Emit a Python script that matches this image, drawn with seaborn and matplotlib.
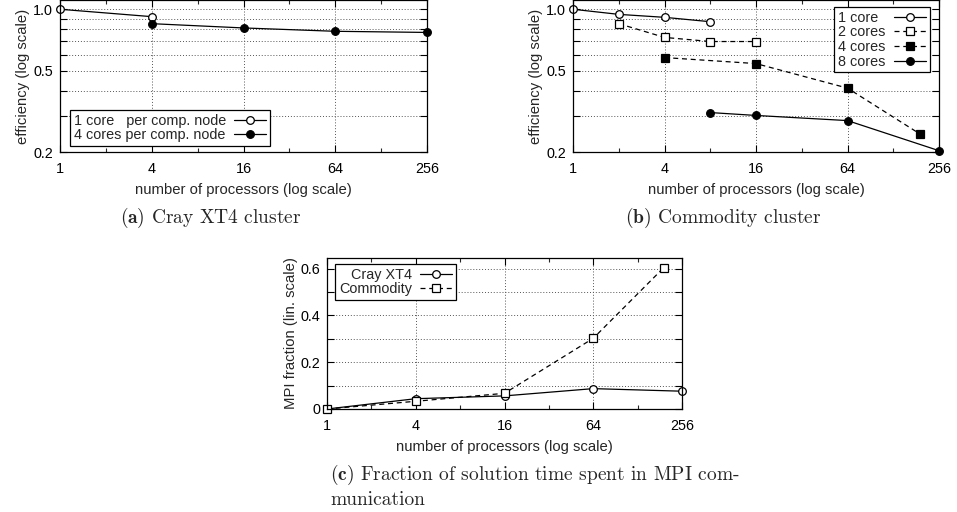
import numpy as np
import pandas as pd
import matplotlib
matplotlib.use("Agg")
import matplotlib.pyplot as plt
import matplotlib.ticker as mticker
import seaborn as sns

# ---------------- data ----------------
# (a) Cray XT4 cluster
cray1_procs = [1, 4]
cray1_eff = [1.0, 0.92]
cray4_procs = [4, 16, 64, 256]
cray4_eff = [0.85, 0.81, 0.78, 0.77]

# (b) Commodity cluster
com1_procs = [1, 2, 4, 8]
com1_eff = [1.0, 0.944, 0.913, 0.869]
com2_procs = [2, 4, 8, 16]
com2_eff = [0.85, 0.728, 0.695, 0.695]
com4_procs = [4, 16, 64, 192]
com4_eff = [0.58, 0.542, 0.411, 0.245]
com8_procs = [8, 16, 64, 256]
com8_eff = [0.312, 0.302, 0.285, 0.203]

# (c) MPI fraction
mpi_cray_procs = [1, 4, 16, 64, 256]
mpi_cray = [0.0, 0.044, 0.056, 0.087, 0.076]
mpi_com_procs = [1, 4, 16, 64, 192]
mpi_com = [0.0, 0.033, 0.067, 0.302, 0.603]

x_ticks = [1, 4, 16, 64, 256]
x_minor = [2, 8, 32, 128]
x_ticklabels = ["1", "4", "16", "64", "256"]
eff_grid = [0.2, 0.3, 0.4, 0.5, 0.6, 0.7, 0.8, 0.9, 1.0]
eff_labels = {0.2: "0.2", 0.5: "0.5", 1.0: "1.0"}
mpi_grid = [0.0, 0.1, 0.2, 0.3, 0.4, 0.5, 0.6]
mpi_labels = {0.0: "0", 0.2: "0.2", 0.4: "0.4", 0.6: "0.6"}

captions = ["$\\mathbf{(a)}$ Cray XT4 cluster",
            "$\\mathbf{(b)}$ Commodity cluster",
            "$\\mathbf{(c)}$ Fraction of solution time spent in MPI com-\nmunication"]

# ---------------- style ----------------
sns.set_style("ticks")
plt.rcParams["font.family"] = ["Liberation Sans", "DejaVu Sans"]
plt.rcParams["mathtext.fontset"] = "cm"
plt.rcParams["axes.linewidth"] = 0.9
plt.rcParams["axes.edgecolor"] = "black"

W, H = 957, 512
fig = plt.figure(figsize=(W / 100, H / 100), dpi=100)


def add_axes(l, r, t, b):
    return fig.add_axes([l / W, 1 - b / H, (r - l) / W, (b - t) / H])


ax_a = add_axes(60, 427, 0, 152)
ax_b = add_axes(573, 939, 0, 152)
ax_c = add_axes(327, 682, 258, 409)

LW = 0.9
MS = 5.5
DASH = (0, (4, 3))
TICK_FS = 10.4
LABEL_FS = 10.7


def series(ax, x, y, marker, filled, ls, label):
    sns.lineplot(x=x, y=y, ax=ax, color="black", linewidth=LW, linestyle=ls,
                 marker=marker, markersize=MS,
                 markerfacecolor="black" if filled else "white",
                 markeredgecolor="black", markeredgewidth=0.9,
                 label=label, clip_on=False, zorder=5)


def style_axes(ax, ygrid, ylabels, logy, ylim, ylabel):
    ax.set_xscale("log", base=2)
    if logy:
        ax.set_yscale("log")
    ax.set_xlim(1, 256)
    ax.set_ylim(*ylim)
    ax.xaxis.set_major_locator(mticker.FixedLocator(x_ticks))
    ax.xaxis.set_major_formatter(mticker.FixedFormatter(x_ticklabels))
    ax.xaxis.set_minor_locator(mticker.FixedLocator(x_minor))
    ax.xaxis.set_minor_formatter(mticker.NullFormatter())
    ax.yaxis.set_major_locator(mticker.FixedLocator(ygrid))
    ax.yaxis.set_major_formatter(mticker.FixedFormatter([ylabels.get(v, "") for v in ygrid]))
    ax.yaxis.set_minor_locator(mticker.NullLocator())
    ax.tick_params(which="major", direction="in", top=True, right=True,
                   length=5, width=0.8, labelsize=TICK_FS, colors="black")
    ax.tick_params(axis="x", which="major", pad=7)
    ax.tick_params(axis="y", which="major", pad=5)
    ax.tick_params(which="minor", direction="in", top=True, right=False,
                   length=3, width=0.8)
    ax.grid(True, which="major", color="#555555", linestyle=(0, (1, 2)),
            linewidth=0.7)
    ax.set_axisbelow(True)
    ax.set_xlabel("number of processors (log scale)", fontsize=LABEL_FS, labelpad=5)
    ax.set_ylabel(ylabel, fontsize=LABEL_FS, labelpad=2)
    for s in ax.spines.values():
        s.set_visible(True)
        s.set_color("black")
        s.set_zorder(6)


# (a)
series(ax_a, cray1_procs, cray1_eff, "o", False, "-", "1 core   per comp. node")
series(ax_a, cray4_procs, cray4_eff, "o", True, "-", "4 cores per comp. node")
style_axes(ax_a, eff_grid, eff_labels, True, (0.2, 1.11), "efficiency (log scale)")

# (b)
series(ax_b, com1_procs, com1_eff, "o", False, "-", "1 core  ")
series(ax_b, com2_procs, com2_eff, "s", False, DASH, "2 cores")
series(ax_b, com4_procs, com4_eff, "s", True, DASH, "4 cores")
series(ax_b, com8_procs, com8_eff, "o", True, "-", "8 cores")
style_axes(ax_b, eff_grid, eff_labels, True, (0.2, 1.11), "efficiency (log scale)")

# (c)
series(ax_c, mpi_cray_procs, mpi_cray, "o", False, "-", "Cray XT4")
series(ax_c, mpi_com_procs, mpi_com, "s", False, DASH, "Commodity")
style_axes(ax_c, mpi_grid, mpi_labels, False, (0.0, 0.645), "MPI fraction (lin. scale)")


def legend(ax, loc, anchor):
    leg = ax.legend(loc=loc, bbox_to_anchor=anchor, borderaxespad=0,
                    markerfirst=False, fontsize=TICK_FS, frameon=True,
                    fancybox=False, edgecolor="black", framealpha=1,
                    handlelength=2.2, handletextpad=0.6, borderpad=0.25,
                    labelspacing=0.05)
    leg.get_frame().set_linewidth(0.9)
    leg.set_zorder(10)


legend(ax_a, "lower left", (0.027, 0.04))
legend(ax_b, "upper right", (0.975, 0.954))
legend(ax_c, "upper left", (0.023, 0.96))

# captions
fig.text(211 / W, 1 - 218 / H, captions[0], family="cmr10", fontsize=14,
         ha="center", va="center")
fig.text(723 / W, 1 - 218 / H, captions[1], family="cmr10", fontsize=14,
         ha="center", va="center")
fig.text(330 / W, 1 - 486 / H, captions[2], family="cmr10", fontsize=14,
         ha="left", va="center", linespacing=1.35)

fig.savefig("out.png", dpi=100)
